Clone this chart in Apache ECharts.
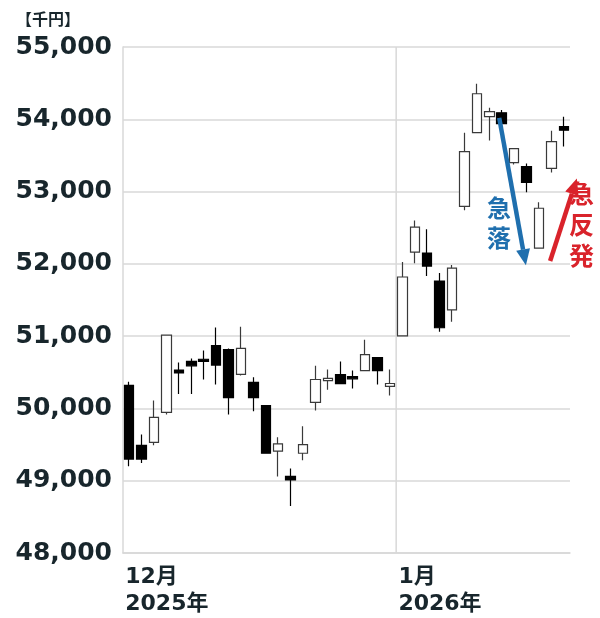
<!DOCTYPE html>
<html>
<head>
<meta charset="utf-8">
<script src="https://cdn.jsdelivr.net/npm/echarts@6/dist/echarts.min.js"></script>
<style>html,body{margin:0;padding:0;background:#fff;}#c{width:600px;height:618px;}</style>
</head>
<body>
<div id="c"></div>
<script>
// Trading days (Dec 2025 – Jan 2026)
const categories = [
  '2025-12-01','2025-12-02','2025-12-03','2025-12-04','2025-12-05',
  '2025-12-08','2025-12-09','2025-12-10','2025-12-11','2025-12-12',
  '2025-12-15','2025-12-16','2025-12-17','2025-12-18','2025-12-19',
  '2025-12-22','2025-12-23','2025-12-24','2025-12-25','2025-12-26',
  '2025-12-29','2025-12-30',
  '2026-01-05','2026-01-06','2026-01-07','2026-01-08','2026-01-09',
  '2026-01-13','2026-01-14','2026-01-15','2026-01-16',
  '2026-01-19','2026-01-20','2026-01-21','2026-01-22','2026-01-23'
];
const opens  = [50320,49490,49530,49945,50530,50650,50680,50870,50815,50470,50360,50040,49410,49060,49380,50083,50385,50468,50440,50523,50702,50305,
                51005,52163,52150,51763,51364,52796,53815,54036,54090,53400,53347,52218,53320,53898];
const closes = [49300,49300,49876,51015,50490,50590,50650,50600,50150,50830,50150,49380,49510,49010,49500,50400,50415,50344,50410,50744,50523,50345,
                51818,52507,51970,51116,51942,53554,54353,54105,53940,53595,53127,52769,53691,53850];
const lows   = [49200,49245,49490,49917,50200,50200,50400,50330,49917,50455,49960,49380,49060,48650,49284,49973,50260,50344,50275,50523,50330,50179,
                51005,52010,51832,51060,51198,52741,53815,53705,53940,53375,52989,52218,53264,53623];
const highs  = [50370,49640,50110,51015,50635,50690,50800,51120,50830,51130,50430,50040,49600,49170,49752,50592,50537,50648,50523,50950,50702,50537,
                52025,52600,52480,51873,51983,53815,54490,54160,54130,53595,53388,52851,53843,54036];
const yTicks = [48000,49000,50000,51000,52000,53000,54000,55000];
// Month boundary (between last Dec day and first Jan day), in category-index units
const monthBoundary = 21.5;
// Annotation arrows in data coordinates [categoryIndex, value]
const dropArrow    = [[29.8, 54020], [31.95, 51980]];
const reboundArrow = [[33.9, 52040], [36.05, 53180]];

const candleData = categories.map((d, i) => [opens[i], closes[i], lows[i], highs[i]]);
const monthStart = {0: '12月\n2025年', 22: '1月\n2026年'};
const TXT = '#18262c';
const GRID = '#d8d8d8';

const chart = echarts.init(document.getElementById('c'), null, {renderer: 'canvas'});
chart.setOption({
  animation: false,
  backgroundColor: '#ffffff',
  title: {
    text: '【千円】', left: 11, top: 6,
    textStyle: {fontSize: 16, fontWeight: 'bold', color: TXT, fontFamily: 'Noto Sans CJK JP'}
  },
  grid: {left: 123, right: 30, top: 47, bottom: 63},
  xAxis: {
    type: 'category',
    data: categories,
    boundaryGap: true,
    axisLine: {show: true, lineStyle: {color: GRID, width: 1.5}},
    axisTick: {show: false},
    splitLine: {show: false},
    axisLabel: {
      interval: 0,
      formatter: (v, i) => monthStart[i] || '',
      align: 'left',
      margin: 11,
      padding: [0, 0, 0, -4],
      fontSize: 22, lineHeight: 27, fontWeight: 'bold', color: TXT,
      fontFamily: 'DejaVu Sans, Noto Sans CJK JP'
    }
  },
  yAxis: {
    type: 'value',
    min: 48000, max: 55000, interval: 1000,
    axisLine: {show: true, lineStyle: {color: GRID, width: 1.5}},
    axisTick: {show: false},
    splitLine: {show: true, lineStyle: {color: GRID, width: 1.5}},
    axisLabel: {
      margin: 11,
      fontSize: 25, fontWeight: 'bold', color: TXT,
      fontFamily: 'DejaVu Sans',
      formatter: (v) => yTicks.includes(v) ? v.toLocaleString('en-US') : ''
    }
  },
  series: [{
    type: 'candlestick',
    data: candleData,
    barWidth: 10,
    clip: false,
    itemStyle: {
      color: '#ffffff', color0: '#000000',
      borderColor: '#3a3a3a', borderColor0: '#000000',
      borderWidth: 1.2
    }
  }]
});

// pixel position for a fractional category index (category scale rounds, so interpolate)
function px(p) {
  const i0 = Math.floor(p[0]), f = p[0] - i0;
  const a = chart.convertToPixel({xAxisIndex: 0, yAxisIndex: 0}, [0, p[1]]);
  const b = chart.convertToPixel({xAxisIndex: 0, yAxisIndex: 0}, [1, p[1]]);
  const step = b[0] - a[0];
  return [a[0] + step * (i0 + f), a[1]];
}
function arrow(a, color) {
  const s = px(a[0]), e = px(a[1]);
  const dx = e[0] - s[0], dy = e[1] - s[1];
  const len = Math.hypot(dx, dy), ux = dx / len, uy = dy / len;
  const hl = 16, hw = 7;
  const bx = e[0] - ux * hl, by = e[1] - uy * hl;
  return [
    {type: 'line', z: 100, shape: {x1: s[0], y1: s[1], x2: bx, y2: by},
     style: {stroke: color, lineWidth: 4.5}},
    {type: 'polygon', z: 100, shape: {points: [[e[0], e[1]], [bx - uy * hw, by + ux * hw], [bx + uy * hw, by - ux * hw]]},
     style: {fill: color}}
  ];
}
const vTop = px([monthBoundary, 55000]), vBot = px([monthBoundary, 48000]);
const BLUE = '#1f6fae', RED = '#d9232b';
chart.setOption({
  graphic: [
    {type: 'line', z: 1, shape: {x1: vTop[0], y1: vTop[1], x2: vBot[0], y2: vBot[1]},
     style: {stroke: GRID, lineWidth: 1.5}},
    ...arrow(dropArrow, BLUE),
    ...arrow(reboundArrow, RED),
    {type: 'text', z: 100, left: 487, top: 193,
     style: {text: '急\n落', fill: BLUE, fontSize: 24, lineHeight: 30, fontWeight: 'bold', fontFamily: 'Noto Sans CJK JP'}},
    {type: 'text', z: 100, left: 569, top: 178,
     style: {text: '急\n反\n発', fill: RED, fontSize: 25, lineHeight: 31, fontWeight: 'bold', fontFamily: 'Noto Sans CJK JP'}}
  ]
});
</script>
</body>
</html>
